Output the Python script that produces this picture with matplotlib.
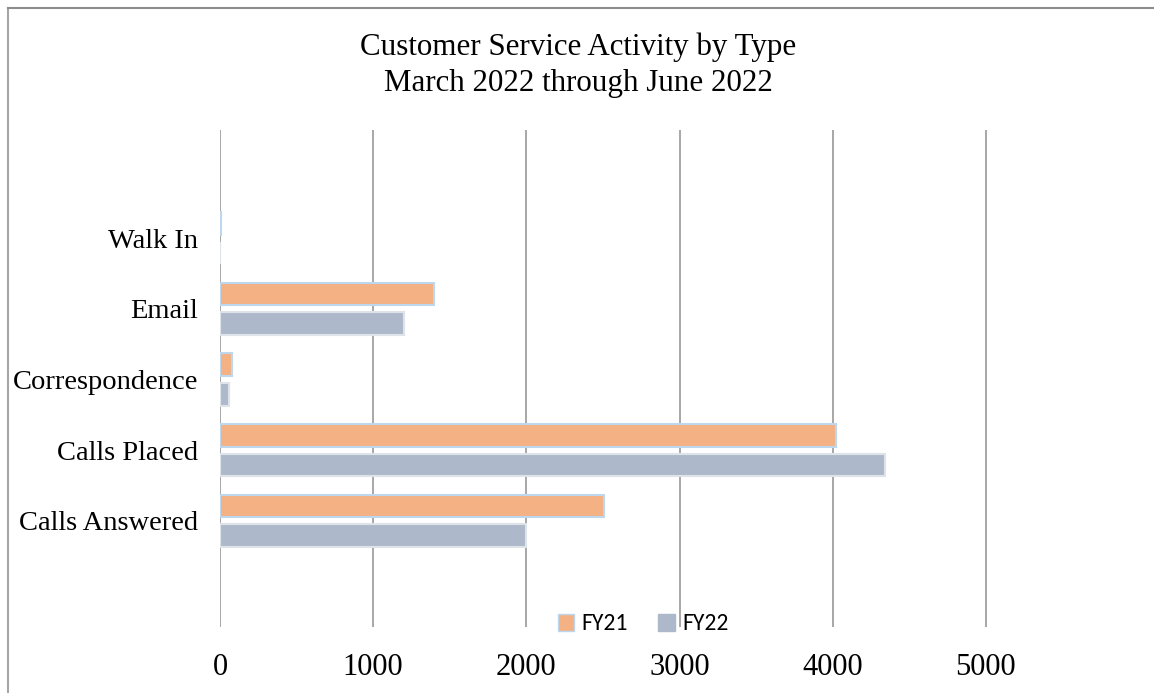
import matplotlib
matplotlib.use("Agg")
import matplotlib.pyplot as plt
from matplotlib.lines import Line2D
from matplotlib.patches import Patch
import numpy as np

categories = ["Calls Answered", "Calls Placed", "Correspondence", "Email", "Walk In"]
fy21 = [2510, 4020, 80, 1400, 5]
fy22 = [2000, 4340, 60, 1200, 2]
series_names = ["FY21", "FY22"]
x_ticks = [0, 1000, 2000, 3000, 4000, 5000]
title_lines = ["Customer Service Activity by Type", "March 2022 through June 2022"]

W, H = 1154, 693
fig = plt.figure(figsize=(W / 100, H / 100), dpi=100)
ax = fig.add_axes([220 / W, 1 - 627 / H, (1139 - 220) / W, (627 - 130) / H])

serif = ["Liberation Serif", "DejaVu Serif"]
c21, c22 = "#F4B183", "#ADB9CA"
pos = np.arange(len(categories))
h = 0.32
ax.barh(pos + 0.21, fy21, height=h, color=c21, edgecolor="#BDD7EE", linewidth=1.5, zorder=3)
ax.barh(pos - 0.21, fy22, height=h, color=c22, edgecolor="#DEE3EA", linewidth=1.5, zorder=3)

ax.set_xlim(0, 6000)
ax.set_ylim(-1.5, 5.53)
for x in x_ticks:
    ax.axvline(x, color="#A0A0A0", linewidth=1.3, zorder=1)
ax.set_xticks(x_ticks)
ax.set_xticklabels([str(v) for v in x_ticks], fontsize=22, family=serif)
ax.set_yticks(pos)
ax.set_yticklabels(categories, fontsize=20.5, family=serif)
ax.tick_params(axis="both", length=0)
ax.tick_params(axis="x", pad=19)
ax.tick_params(axis="y", pad=16)
for s in ax.spines.values():
    s.set_visible(False)

fig.text(578 / W, 1 - 47 / H, title_lines[0], ha="center", va="center", fontsize=22.3, family=serif)
fig.text(578 / W, 1 - 83 / H, title_lines[1], ha="center", va="center", fontsize=22.3, family=serif)

handles = [Patch(facecolor=c21, edgecolor="#BDD7EE"), Patch(facecolor=c22, edgecolor=c22)]
leg = fig.legend(handles, series_names, loc="center", bbox_to_anchor=(643 / W, 1 - 624 / H),
                 ncol=2, frameon=False, prop={"family": ["Carlito", "Open Sans", "DejaVu Sans"], "size": 17},
                 handlelength=0.7, handleheight=0.7, handletextpad=0.3, columnspacing=1.3)

# chart frame (left and top edges visible)
fig.add_artist(Line2D([7.5 / W, 7.5 / W], [0, 1 - 7.5 / H], color="#A6A6A6", linewidth=1.5, transform=fig.transFigure))
fig.add_artist(Line2D([7.5 / W, 1], [1 - 7.5 / H, 1 - 7.5 / H], color="#8C8C8C", linewidth=1.5, transform=fig.transFigure))

fig.savefig("out.png", dpi=100)
